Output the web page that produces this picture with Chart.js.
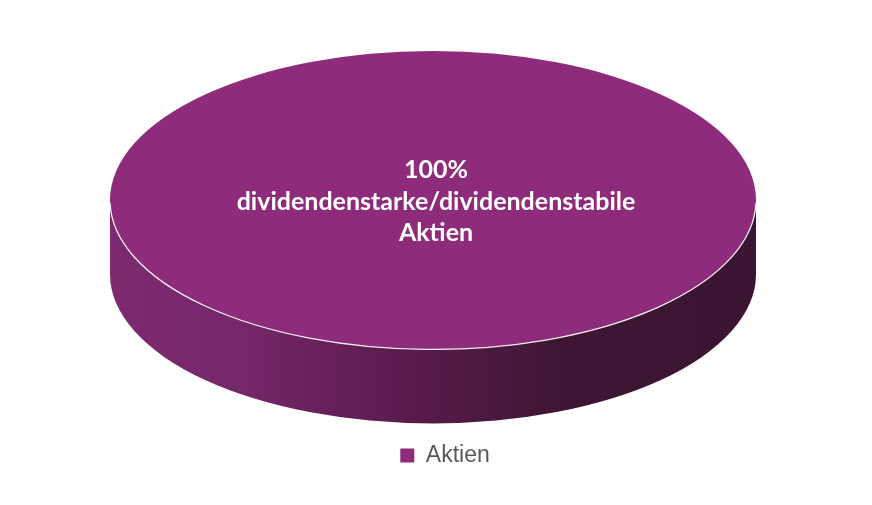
<!DOCTYPE html>
<html>
<head>
<meta charset="utf-8">
<script src="https://cdn.jsdelivr.net/npm/chart.js@4.4.1/dist/chart.umd.min.js"></script>
<style>
  html, body { margin: 0; padding: 0; background: #fff; }
  #wrap { width: 872px; height: 505px; }
</style>
</head>
<body>
<div id="wrap"><canvas id="result"></canvas></div>
<script>
const categories = ['Aktien'];
const shares = [100];
const sliceText = ['dividendenstarke/dividendenstabile', 'Aktien'];

const topColor = '#8f2b7b';
const tilt = 0.462;   // vertical squash of the pie top
const depth = 74;     // height of the cylinder side

// squashes the library's pie into an ellipse and adds a side wall under it
const pie3d = {
    id: 'pie3d',
    afterLayout(chart) {
        // legend sits a bit right of the pie centre in the original
        const l = chart.legend;
        l.left += 12; l.right += 12;
        l.top += 2; l.bottom += 2;
    },
    beforeDatasetsDraw(chart) {
        const ctx = chart.ctx;
        const a = chart.chartArea;
        const arc = chart.getDatasetMeta(0).data[0];
        const rx = (a.right - a.left) / 2, ry = rx * tilt;
        const cx = (a.left + a.right) / 2, cy = a.top + ry;
        chart.$ell = { cx, cy, rx, ry };

        const g = ctx.createLinearGradient(cx - rx, 0, cx + rx, 0);
        g.addColorStop(0, '#7e2a70');
        g.addColorStop(0.2, '#75276a');
        g.addColorStop(0.45, '#5b1b4d');
        g.addColorStop(0.7, '#3e1634');
        g.addColorStop(1, '#3a1430');
        ctx.save();
        ctx.beginPath();
        ctx.ellipse(cx, cy, rx, ry, 0, 0, Math.PI);
        ctx.lineTo(cx - rx, cy + depth);
        ctx.ellipse(cx, cy + depth, rx, ry, 0, Math.PI, 0, true);
        ctx.closePath();
        ctx.fillStyle = g;
        ctx.fill();
        ctx.restore();

        ctx.save();
        ctx.translate(cx, cy);
        ctx.scale(rx / arc.outerRadius, ry / arc.outerRadius);
        ctx.translate(-arc.x, -arc.y);
    },
    afterDatasetsDraw(chart) {
        const ctx = chart.ctx;
        ctx.restore();
        const e = chart.$ell;
        // thin light rim on the front edge
        ctx.save();
        ctx.beginPath();
        ctx.ellipse(e.cx, e.cy, e.rx, e.ry, 0, 0.02, Math.PI - 0.02);
        ctx.strokeStyle = 'rgba(255,255,255,0.9)';
        ctx.lineWidth = 1.3;
        ctx.stroke();

        // slice label
        const ds = chart.data.datasets[0];
        const total = ds.data.reduce((s, v) => s + v, 0);
        const lines = [Math.round(ds.data[0] / total * 100) + '%'].concat(sliceText);
        ctx.fillStyle = '#ffffff';
        ctx.font = 'bold 25px Lato';
        ctx.textAlign = 'center';
        ctx.textBaseline = 'middle';
        lines.forEach((t, i) => ctx.fillText(t, e.cx + 3, 170 + i * 31.5));
        ctx.restore();
    }
};

new Chart(document.getElementById('result'), {
    type: 'pie',
    data: {
        labels: categories,
        datasets: [{
            data: shares,
            backgroundColor: topColor,
            borderWidth: 0,
            clip: false
        }]
    },
    options: {
        responsive: true,
        maintainAspectRatio: false,
        animation: false,
        layout: { padding: { top: 51, left: 110, right: 116, bottom: 30 } },
        plugins: {
            legend: {
                position: 'bottom',
                labels: {
                    boxWidth: 14,
                    boxHeight: 14,
                    color: '#595959',
                    font: { family: 'Liberation Sans', size: 23 }
                }
            },
            tooltip: { enabled: false }
        }
    },
    plugins: [pie3d]
});
</script>
</body>
</html>
